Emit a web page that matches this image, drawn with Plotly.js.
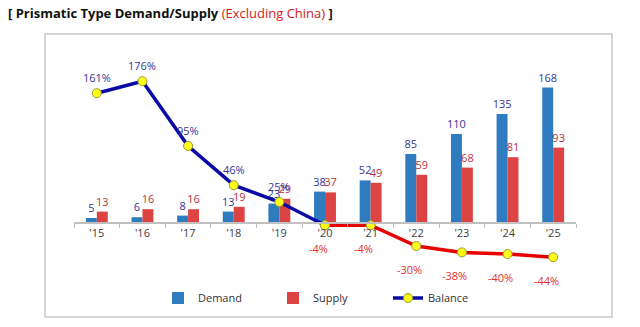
<!DOCTYPE html>
<html>
<head>
<meta charset="utf-8">
<script src="https://cdn.plot.ly/plotly-3.0.1.min.js"></script>
<style>html,body{margin:0;padding:0;background:#fff;}#chart{width:640px;height:327px;}</style>
</head>
<body>
<div id="chart"></div>
<script>
const years = ["'15","'16","'17","'18","'19","'20","'21","'22","'23","'24","'25"];
const demand = [5,6,8,13,23,38,52,85,110,135,168];
const supply = [13,16,16,19,29,37,49,59,68,81,93];
const balance = [161,176,95,46,25,-4,-4,-30,-38,-40,-44];

const W = 640, H = 327;
const M = {l:74, r:64, t:62, b:57};
const yRange = [-60, 200];
const pw = W - M.l - M.r, ph = H - M.t - M.b;
const px2x = p => (p - M.l) / pw;
const py2y = p => (H - M.b - p) / ph;

// split balance into positive (blue) and negative (red) segments
const lastPos = balance.findIndex(v => v < 0);
const balBlue = balance.map((v,i) => i <= lastPos ? v : null);
const balRed = balance.map((v,i) => i >= lastPos ? v : null);

const FONT = "Open Sans, Noto Sans, sans-serif";
const marker = {size:9, color:'#ffff1a', line:{color:'#9a9a30', width:1}};

const traces = [
  {type:'bar', name:'Demand', x:years, y:demand, marker:{color:'#2f7bbf'},
   text:demand.map(String), textposition:'outside', constraintext:'none', cliponaxis:false,
   textfont:{color:'#35359a', size:11, family:FONT}},
  {type:'bar', name:'Supply', x:years, y:supply, marker:{color:'#dc4444'},
   text:supply.map(String), textposition:'outside', constraintext:'none', cliponaxis:false,
   textfont:{color:'#c0303a', size:11, family:FONT}},
  {type:'scatter', mode:'lines+markers', name:'Balance', x:years, y:balBlue,
   line:{color:'#0a0aa5', width:3.5}, marker:marker, cliponaxis:false},
  {type:'scatter', mode:'lines+markers', name:'Balance', x:years, y:balRed, showlegend:false,
   line:{color:'#e80000', width:3.5}, marker:marker, cliponaxis:false}
];

const annotations = balance.map((v,i) => ({
  x: years[i], y: v, xref:'x', yref:'y', showarrow:false,
  text: v + '%', yshift: v >= 0 ? 16 : -23, xshift: v >= 0 ? 0 : -7,
  font:{size:11, family:FONT, color: v >= 0 ? '#35359a' : '#e03030'}
}));

const layout = {
  width:W, height:H, margin:M, paper_bgcolor:'#fff', plot_bgcolor:'rgba(0,0,0,0)',
  showlegend:true,
  title:{text:"<b>[ Prismatic Type Demand/Supply</b> <span style='color:#d42020'>(Excluding China)</span> <b>]</b>",
    x:8/W, xanchor:'left', xref:'container', y:1-13/H, yanchor:'middle', yref:'container',
    font:{size:13, family:FONT, color:'#111'}},
  barmode:'group', bargap:0.52, bargroupgap:0,
  xaxis:{type:'category', range:[-0.5,10.5], showline:true, linecolor:'#c0c0c0', linewidth:1.5,
    ticks:'outside', tickson:'boundaries', ticklen:4, tickcolor:'#c0c0c0',
    anchor:'free', position:(0 - yRange[0])/(yRange[1]-yRange[0]),
    showgrid:false, zeroline:false, fixedrange:true,
    tickfont:{size:11, family:FONT, color:'#404040'}},
  yaxis:{range:yRange, visible:false, fixedrange:true},
  legend:{orientation:'h', x:px2x(158), y:py2y(298), xanchor:'left', yanchor:'middle',
    entrywidth:70, font:{size:11, family:FONT, color:'#333'}, bgcolor:'rgba(0,0,0,0)'},
  annotations: annotations,
  shapes:[{type:'rect', xref:'paper', yref:'paper', x0:px2x(45), x1:px2x(612), y0:py2y(317), y1:py2y(34),
    line:{color:'#c8c8c8', width:1.5}, fillcolor:'rgba(0,0,0,0)', layer:'below'}]
};

Plotly.newPlot('chart', traces, layout, {displayModeBar:false, staticPlot:true});
</script>
</body>
</html>
